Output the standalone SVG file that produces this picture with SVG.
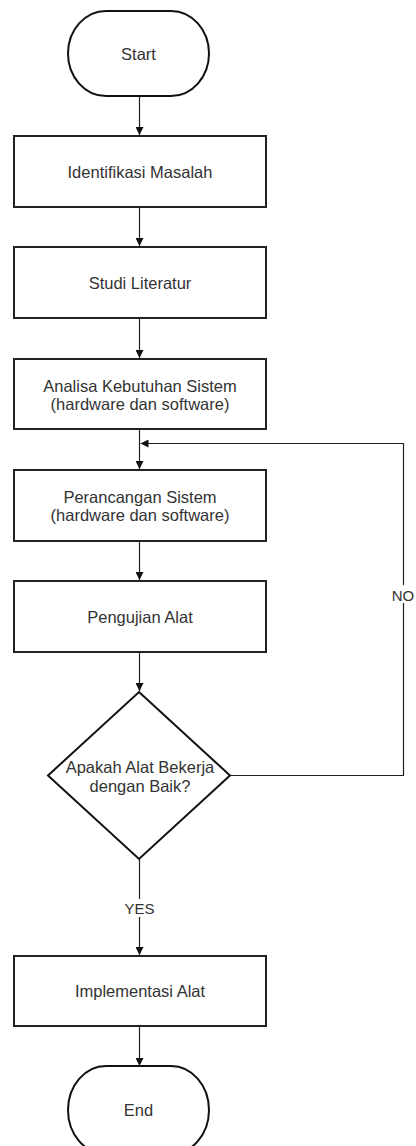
<svg xmlns="http://www.w3.org/2000/svg" width="416" height="1146" viewBox="0 0 416 1146">
<style>
.box{fill:#fff;stroke:#222;stroke-width:2}
.term{fill:#fff;stroke:#111;stroke-width:2}
.t{font-family:"Liberation Sans",Arial,sans-serif;font-size:16.5px;fill:#333;text-anchor:middle;dominant-baseline:central}
.lbl{font-family:"Liberation Sans",Arial,sans-serif;font-size:15px;fill:#333;text-anchor:middle;dominant-baseline:central}
.c{fill:none;stroke:#222;stroke-width:1.2}
</style>
<defs>
<marker id="ah" viewBox="0 0 10 10" refX="10" refY="5" markerWidth="8" markerHeight="8" markerUnits="userSpaceOnUse" orient="auto">
<path d="M0,0 L10,5 L0,10 Z" fill="#111"/>
</marker>
</defs>
<rect width="416" height="1146" fill="#fff"/>
<g id="connectors">
<line class="c" x1="139.5" y1="96" x2="139.5" y2="135" marker-end="url(#ah)"/>
<line class="c" x1="139.5" y1="207" x2="139.5" y2="246" marker-end="url(#ah)"/>
<line class="c" x1="139.5" y1="318" x2="139.5" y2="358" marker-end="url(#ah)"/>
<line class="c" x1="139.5" y1="429" x2="139.5" y2="469" marker-end="url(#ah)"/>
<line class="c" x1="139.5" y1="541" x2="139.5" y2="580" marker-end="url(#ah)"/>
<line class="c" x1="139.5" y1="652" x2="139.5" y2="691" marker-end="url(#ah)"/>
<line class="c" x1="139.5" y1="859" x2="139.5" y2="955" marker-end="url(#ah)"/>
<line class="c" x1="139.5" y1="1026" x2="139.5" y2="1066" marker-end="url(#ah)"/>
<polyline class="c" points="230,775.5 403.5,775.5 403.5,443.5 140.5,443.5" marker-end="url(#ah)"/>
<rect x="124" y="899" width="31" height="18" fill="#fff"/>
<text class="lbl" x="139.5" y="908">YES</text>
<rect x="392" y="585" width="23" height="18" fill="#fff"/>
<text class="lbl" x="403" y="595">NO</text>
</g>
<g id="start">
<rect class="term" x="68" y="11" width="141" height="85" rx="38" ry="42.5"/>
<text class="t" x="138.5" y="53.5">Start</text>
</g>
<g id="identifikasi">
<rect class="box" x="14" y="136" width="252" height="71"/>
<text class="t" x="140" y="171.5">Identifikasi Masalah</text>
</g>
<g id="studi">
<rect class="box" x="14" y="247" width="252" height="71"/>
<text class="t" x="140" y="282.5">Studi Literatur</text>
</g>
<g id="analisa">
<rect class="box" x="14" y="359" width="252" height="70"/>
<text class="t" x="140" y="385.5">Analisa Kebutuhan Sistem</text>
<text class="t" x="140" y="403.5">(hardware dan software)</text>
</g>
<g id="perancangan">
<rect class="box" x="14" y="470" width="252" height="71"/>
<text class="t" x="140" y="496.5">Perancangan Sistem</text>
<text class="t" x="140" y="514.5">(hardware dan software)</text>
</g>
<g id="pengujian">
<rect class="box" x="14" y="581" width="252" height="71"/>
<text class="t" x="140" y="616.5">Pengujian Alat</text>
</g>
<g id="decision">
<polygon class="term" points="139,692 230,775.5 139,859 48,775.5"/>
<text class="t" x="140" y="767">Apakah Alat Bekerja</text>
<text class="t" x="140" y="786">dengan Baik?</text>
</g>
<g id="implementasi">
<rect class="box" x="14" y="956" width="252" height="70"/>
<text class="t" x="140" y="991">Implementasi Alat</text>
</g>
<g id="end">
<rect class="term" x="68" y="1066" width="141" height="88" rx="38" ry="44"/>
<text class="t" x="138.5" y="1110">End</text>
</g>
</svg>
